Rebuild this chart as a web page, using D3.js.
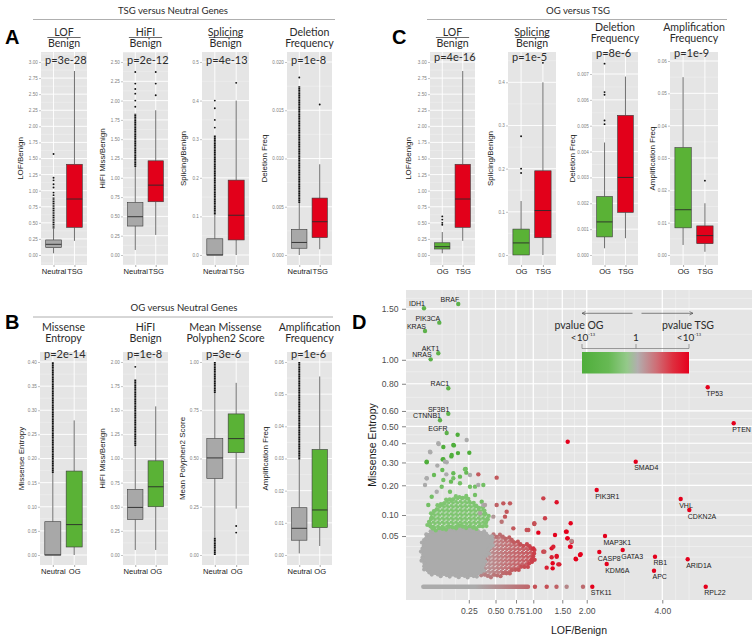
<!DOCTYPE html>
<html>
<head>
<meta charset="utf-8">
<script src="https://cdnjs.cloudflare.com/ajax/libs/d3/7.8.5/d3.min.js"></script>
<style>
  body { margin: 0; background: #fff; }
  svg { display: block; }
</style>
</head>
<body>
<svg id="fig" width="756" height="641"></svg>
<script>
// box stats are [lower whisker, q1, median, q3, upper whisker]
// runs are ranges of densely packed outliers, outs are single outliers

// A: TSG versus Neutral
const aLofNeutral = [0.026, 0.114, 0.166, 0.234, 0.41];
const aLofNeutralRun = [0.41, 0.90];
const aLofNeutralOut = [0.93, 0.97, 1.05, 1.10, 1.16, 1.20, 1.57];
const aLofTsg = [0.22, 0.43, 0.87, 1.41, 2.86];

const aHifiNeutral = [0.065, 0.375, 0.496, 0.68, 1.14];
const aHifiNeutralRun = [1.14, 1.83];
const aHifiNeutralOut = [1.92, 2.0, 2.09, 2.15, 2.22, 2.37];
const aHifiTsg = [0.26, 0.69, 0.905, 1.22, 1.875];
const aHifiTsgOut = [2.07, 2.22, 2.37];

const aSplNeutral = [0, 0, 0, 0.042, 0.105];
const aSplNeutralRun = [0.105, 0.31];
const aSplNeutralOut = [0.33, 0.35, 0.38, 0.40];
const aSplTsg = [0, 0.039, 0.103, 0.194, 0.40];
const aSplTsgOut = [0.446];

const aDelNeutral = [0, 0.0007, 0.0013, 0.00266, 0.0054];
const aDelNeutralRun = [0.0054, 0.0175];
const aDelNeutralOut = [0.0184];
const aDelTsg = [0.0006, 0.0018, 0.00345, 0.0059, 0.0094];
const aDelTsgOut = [0.0156];

// B: OG versus Neutral
const bEntNeutral = [0, 0, 0, 0.069, 0.17];
const bEntNeutralRun = [0.17, 0.40];
const bEntOg = [0, 0.0166, 0.063, 0.174, 0.279];

const bHifiNeutral = [0.052, 0.369, 0.493, 0.679, 1.13];
const bHifiNeutralRun = [1.13, 1.82];
const bHifiNeutralOut = [1.95];
const bHifiOg = [0.052, 0.50, 0.707, 0.976, 1.54];

const bPolyNeutral = [0.09, 0.397, 0.503, 0.603, 0.84];
const bPolyNeutralRun = [0.84, 1.0];
const bPolyNeutralRunLow = [0, 0.09];
const bPolyOg = [0.24, 0.53, 0.603, 0.731, 0.892];
const bPolyOgOut = [0.116, 0.15];

const bAmpNeutral = [0.0005, 0.0046, 0.0083, 0.0147, 0.0297];
const bAmpNeutralRun = [0.0297, 0.06];
const bAmpOg = [0.0028, 0.0085, 0.014, 0.0328, 0.0555];

// C: OG versus TSG
const cLofOg = [0.026, 0.093, 0.129, 0.19, 0.357];
const cLofOgOut = [0.47, 0.50, 0.55, 0.60];
const cLofTsg = [0.22, 0.43, 0.87, 1.41, 2.86];

const cSplOg = [0, 0, 0.028, 0.06, 0.125];
const cSplOgOut = [0.19, 0.20, 0.275];
const cSplTsg = [0, 0.04, 0.103, 0.195, 0.40];
const cSplTsgOut = [0.445];

const cDelOg = [0.00026, 0.0007, 0.00128, 0.00226, 0.00435];
const cDelOgOut = [0.00506, 0.0052, 0.0062, 0.0063, 0.0074];
const cDelTsg = [0.00065, 0.00165, 0.003, 0.0054, 0.0069];

const cAmpOg = [0.0031, 0.0084, 0.014, 0.0332, 0.055];
const cAmpTsg = [0.001, 0.0035, 0.006, 0.009, 0.016];
const cAmpTsgOut = [0.023];

// tick values
const ticksLof = [0, 0.25, 0.5, 0.75, 1, 1.25, 1.5, 1.75, 2, 2.25, 2.5, 2.75, 3];
const ticksHifiA = [0, 0.25, 0.5, 0.75, 1, 1.25, 1.5, 1.75, 2, 2.25, 2.5];
const ticksHifiB = [0, 0.25, 0.5, 0.75, 1, 1.25, 1.5, 1.75, 2];
const ticksSplA = [0, 0.1, 0.2, 0.3, 0.4, 0.5];
const ticksSplC = [0, 0.1, 0.2, 0.3, 0.4];
const ticksDelA = [0, 0.005, 0.01, 0.015, 0.02];
const ticksDelC = [0, 0.001, 0.002, 0.003, 0.004, 0.005, 0.006, 0.007];
const ticksEnt = [0, 0.05, 0.1, 0.15, 0.2, 0.25, 0.3, 0.35, 0.4];
const ticksPoly = [0, 0.25, 0.5, 0.75, 1];
const ticksAmp = [0, 0.01, 0.02, 0.03, 0.04, 0.05, 0.06];

// D: scatter of LOF/Benign vs Missense Entropy
const dXTicks = [0.25, 0.5, 0.75, 1, 1.5, 2, 4];
const dYTicks = [0.05, 0.1, 0.2, 0.3, 0.4, 0.5, 0.6, 0.8, 1, 1.5];

const ogGenes = ["IDH1", "BRAF", "PIK3CA", "KRAS", "AKT1", "NRAS", "RAC1", "SF3B1", "CTNNB1", "EGFR"];
const ogLof = [0.0233, 0.175, 0.0736, 0.0258, 0.0695, 0.0419, 0.1163, 0.1163, 0.0766, 0.108];
const ogEntropy = [1.505, 1.552, 1.354, 1.270, 1.058, 1.004, 0.765, 0.5815, 0.538, 0.459];

const tsgGenes = ["TP53", "PTEN", "SMAD4", "PIK3R1", "VHL", "CDKN2A", "MAP3K1", "CASP8", "GATA3", "KDM6A", "RB1", "APC", "ARID1A", "STK11", "RPL22"];
const tsgLof = [5.532, 6.520, 3.218, 2.2245, 4.591, 4.881, 2.4206, 2.285, 2.866, 2.462, 3.777, 3.747, 4.826, 2.124, 5.459];
const tsgEntropy = [0.7724, 0.5188, 0.3037, 0.1818, 0.1496, 0.1145, 0.0501, 0.0235, 0.0263, 0.0101, 0.0176, 0.00503, 0.01468, 0, 0];

// dense cores of the cloud, outlines: [lof, entropy]
const grayCore = [[0.0218, 0.0425], [0.0347, 0.0555], [0.063, 0.0626], [0.1255, 0.0663], [0.2094, 0.0686], [0.3147, 0.0626], [0.4077, 0.0555], [0.4763, 0.0425], [0.4413, 0.0263], [0.3914, 0.0139], [0.3754, 0.00548], [0.3147, 0.00226], [0.2094, 0.00199], [0.1255, 0.00226], [0.063, 0.0027], [0.0301, 0.00444], [0.0203, 0.0107], [0.0181, 0.0263]];
const greenCore = [[0.0347, 0.0702], [0.0397, 0.0955], [0.063, 0.1246], [0.1079, 0.1462], [0.1648, 0.1576], [0.2338, 0.1576], [0.2864, 0.1352], [0.3754, 0.1195], [0.4243, 0.0955], [0.4077, 0.0741], [0.3147, 0.0663], [0.2094, 0.0686], [0.1255, 0.0663], [0.063, 0.0626]];
const redCore = [[0.3914, 0.0475], [0.5127, 0.0521], [0.6714, 0.0456], [0.8044, 0.0367], [0.975, 0.0313], [1.0265, 0.0176], [0.9495, 0.0092], [0.7588, 0.00548], [0.5893, 0.0027], [0.4413, 0.00199], [0.3597, 0.0027], [0.3754, 0.0107], [0.4077, 0.0263]];

// scattered genes: [lof, entropy, score] score -1 = OG, 0 = neutral, 1 = TSG
const cloudPoints = [
  [0.171, 0.449, -1], [0.0916, 0.379, -1], [0.148, 0.388, -1], [0.234, 0.418, 0], [0.071, 0.396, 0],
  [0.0407, 0.351, 0], [0.173, 0.347, -1], [0.254, 0.349, -1], [0.133, 0.330, -1], [0.0885, 0.315, -1],
  [0.0301, 0.301, -1], [0.108, 0.301, 0], [0.0656, 0.285, 0], [0.053, 0.2426, -0.8], [0.0869, 0.2647, -0.8],
  [0.1445, 0.25, -0.8], [0.2263, 0.269, -0.8], [0.231, 0.2528, -0.8], [0.131, 0.2145, -0.8], [0.1864, 0.2354, -0.8],
  [0.2594, 0.2426, 0], [0.0301, 0.2283, 0], [0.1062, 0.2455, 0], [0.3753, 0.2011, -0.7], [0.3004, 0.1946, -0.7],
  [0.0301, 0.3037, -1], [0.0914, 0.3155, -1], [0.135, 0.337, -1], [0.1443, 0.390, -1], [0.0695, 0.3997, 0],
  [0.0397, 0.354, 0], [0.0301, 0.2285, 0], [0.0995, 0.3037, 0], [0.0914, 0.2214, -0.7], [0.1443, 0.2285, -0.7],
  [0.2214, 0.268, -0.7], [0.1864, 0.2079, -0.7], [0.2594, 0.1945, -0.7], [0.0841, 0.1945, -0.7], [0.1255, 0.1755, -0.7],
  [0.0451, 0.1575, -0.7], [0.3004, 0.1635, -0.7], [0.36, 0.1405, -0.7], [0.0346, 0.1299, -0.7], [0.0631, 0.1755, 0],
  [0.329, 0.2011, 0], [0.375, 0.1299, 0], [0.0258, 0.2011, 0],
  [0.3294, 0.2455, 0.45], [0.5127, 0.2311, 0.45], [1.6045, 0.4086, 1],
  [1.1616, 0.1519, 0.6], [1.395, 0.1385, 0.9], [1.1896, 0.091, 0.6], [1.016, 0.0765, 0.5], [1.0795, 0.0569, 1],
  [0.90, 0.0626, 0.5], [0.7144, 0.0663, 0.45], [0.5893, 0.1352, 0.45], [0.6298, 0.1095, 0.45], [0.5127, 0.1299, 0.4],
  [0.5697, 0.0823, 0.3], [0.3444, 0.1048, 0.05], [0.3914, 0.1299, 0.05], [0.4763, 0.0955, 0.1], [1.3647, 0.0521, 1],
  [1.305, 0.0287, 0.9], [1.395, 0.0176, 0.8], [1.323, 0.0107, 1], [1.218, 0.0071, 0.8], [1.323, 0.0066, 1],
  [1.4443, 0.0098, 0.8], [1.0, 0.0287, 0.7], [1.1616, 0.024, 0.7], [0.975, 0.0139, 0.6],
  [1.6633, 0.0782, 1], [1.5843, 0.059, 1], [1.6038, 0.0456, 0.9], [1.6834, 0.0395, 0.9], [1.6633, 0.0313, 0.9],
  [1.855, 0.0196, 1], [1.7716, 0.0146, 1], [1.3347, 0.0313, 0.8], [1.305, 0.0169, 0.8], [1.395, 0.0184, 0.9],
  [1.4257, 0.0098, 0.8], [1.1783, 0.024, 0.5], [1.016, 0.0782, 0.5], [0.9245, 0.0626, 0.5], [0.6714, 0.1352, 0.45],
  [0.6094, 0.0955, 0.45], [1.5713, 0.059, 1], [1.5967, 0.0456, 1], [1.6834, 0.0407, 0.2], [1.65, 0.0313, 1],
  [1.8693, 0.0205, 1], [1.7647, 0.0154, 1]
];

// genes with zero missense entropy
const zeroBand = [0.0217, 0.9195];
const zeroRowLof = [1.026, 1.2185, 1.392, 1.584, 1.919];
const zeroRowScore = [0.5, 0.5, 0.4, 0.2, 0.35];

// ------------------------------------------------------------------
const svg = d3.select("#fig");
const defs = svg.append("defs");
const AX = "'Liberation Sans', Arial, sans-serif";
const TI = "Lato, 'Open Sans', sans-serif";
const GREY = "#a8a8a8", RED = "#e2001a", GREEN = "#5ab236";

const scoreColor = d3.scaleLinear()
  .domain([-1, -0.6, 0, 0.45, 1])
  .range(["#4fae3b", "#7fc571", "#ababab", "#c2585c", "#e4001c"]);

function midMinors(ticks) {
  const step = ticks[1] - ticks[0];
  const ext = [ticks[0] - step, ...ticks, ticks[ticks.length - 1] + step];
  return ext.slice(1).map((v, i) => (v + ext[i]) / 2);
}

function boxPanel(c) {
  const g = svg.append("g");
  const x = d3.scaleLinear().domain([0.4, 2.6]).range([c.x0, c.x1]);
  const y = d3.scaleLinear().domain([0, c.tv]).range([c.zero, c.tp]);
  const clipId = "clip" + Math.round(c.x0) + "_" + Math.round(c.top);
  g.append("clipPath").attr("id", clipId).append("rect")
    .attr("x", c.x0).attr("y", c.top).attr("width", c.x1 - c.x0).attr("height", c.bottom - c.top);

  g.append("rect").attr("x", c.x0).attr("y", c.top)
    .attr("width", c.x1 - c.x0).attr("height", c.bottom - c.top).attr("fill", "#e5e5e5");

  const grid = g.append("g").attr("clip-path", `url(#${clipId})`);
  grid.selectAll(".mn").data(midMinors(c.ticks)).enter().append("line")
    .attr("x1", c.x0).attr("x2", c.x1).attr("y1", d => y(d)).attr("y2", d => y(d))
    .attr("stroke", "#f2f2f2").attr("stroke-width", 0.5);
  grid.selectAll(".mj").data(c.ticks).enter().append("line")
    .attr("x1", c.x0).attr("x2", c.x1).attr("y1", d => y(d)).attr("y2", d => y(d))
    .attr("stroke", "#fff").attr("stroke-width", 0.9);
  grid.selectAll(".vx").data([1, 2]).enter().append("line")
    .attr("x1", d => x(d)).attr("x2", d => x(d)).attr("y1", c.top).attr("y2", c.bottom)
    .attr("stroke", "#fff").attr("stroke-width", 0.9);

  const hw = x(1.375) - x(1);
  c.boxes.forEach((b, i) => {
    const cx = x(i + 1), s = b.stats;
    g.append("line").attr("x1", cx).attr("x2", cx).attr("y1", y(s[0])).attr("y2", y(s[1]))
      .attr("stroke", "#333").attr("stroke-width", 0.7);
    g.append("line").attr("x1", cx).attr("x2", cx).attr("y1", y(s[3])).attr("y2", y(s[4]))
      .attr("stroke", "#333").attr("stroke-width", 0.7);
    (b.runs || []).forEach(r => {
      g.append("line").attr("x1", cx).attr("x2", cx).attr("y1", y(r[0])).attr("y2", y(r[1]))
        .attr("stroke", "#111").attr("stroke-width", 1.9).attr("stroke-dasharray", "1.4 0.35");
    });
    g.selectAll(null).data(b.outs || []).enter().append("circle")
      .attr("cx", cx).attr("cy", d => y(d)).attr("r", 0.95).attr("fill", "#111");
    g.append("rect").attr("x", cx - hw).attr("y", y(s[3]))
      .attr("width", 2 * hw).attr("height", Math.max(0.5, y(s[1]) - y(s[3])))
      .attr("fill", b.color).attr("stroke", "#3a3a3a").attr("stroke-width", 0.6);
    g.append("line").attr("x1", cx - hw).attr("x2", cx + hw).attr("y1", y(s[2])).attr("y2", y(s[2]))
      .attr("stroke", "#2a2a2a").attr("stroke-width", 0.9);
  });

  // axes
  const ya = g.append("g").attr("transform", `translate(${c.x0},0)`)
    .call(d3.axisLeft(y).tickValues(c.ticks).tickFormat(d3.format(c.fmt)).tickSize(2).tickPadding(1.2));
  ya.select(".domain").remove();
  ya.selectAll("line").attr("stroke", "#888").attr("stroke-width", 0.5);
  ya.selectAll("text").attr("font-family", AX).attr("font-size", 4.6).attr("fill", "#808080");

  const xa = g.append("g").attr("transform", `translate(0,${c.bottom})`)
    .call(d3.axisBottom(x).tickValues([1, 2]).tickFormat(d => c.cats[d - 1]).tickSize(2).tickPadding(2));
  xa.select(".domain").remove();
  xa.selectAll("line").attr("stroke", "#555").attr("stroke-width", 0.5);
  xa.selectAll("text").attr("font-family", AX).attr("font-size", 7.6).attr("fill", "#1a1a1a");

  g.append("text")
    .attr("transform", `translate(${c.ytx},${(c.top + c.bottom) / 2}) rotate(-90)`)
    .attr("text-anchor", "middle").attr("dy", "0.35em")
    .attr("font-family", AX).attr("font-size", 8).attr("fill", "#1a1a1a").text(c.ytitle);

  // titles
  const mx = (c.x0 + c.x1) / 2;
  g.append("text").attr("x", mx).attr("y", c.t1).attr("text-anchor", "middle")
    .attr("font-family", TI).attr("font-size", 10.6).attr("fill", "#2b2b2b").text(c.title[0]);
  const t2 = g.append("text").attr("x", mx).attr("y", c.t1 + 11).attr("text-anchor", "middle")
    .attr("font-family", TI).attr("font-size", 10.6).attr("fill", "#2b2b2b").text(c.title[1]);
  if (c.frac) {
    const w = t2.node().getComputedTextLength() + 1;
    g.append("line").attr("x1", mx - w / 2).attr("x2", mx + w / 2)
      .attr("y1", c.t1 + 2).attr("y2", c.t1 + 2).attr("stroke", "#2b2b2b").attr("stroke-width", 0.7);
  }
  g.append("text").attr("x", c.x0 + 4).attr("y", c.py).attr("font-family", TI)
    .attr("font-size", 11).attr("fill", "#2b2b2b").text(c.p);
}

const rowA = { top: 52, bottom: 265, zero: 255, t1: 35.5, py: 64 };
const rowB = { top: 352, bottom: 565, zero: 555, t1: 330.8, py: 358 };

const panels = [
  { ...rowA, x0: 41, x1: 87, tv: 3, tp: 62, ticks: ticksLof, fmt: ".2f", title: ["LOF", "Benign"], frac: true, p: "p=3e-28", ytitle: "LOF/Benign", ytx: 20, cats: ["Neutral", "TSG"],
    boxes: [{ stats: aLofNeutral, runs: [aLofNeutralRun], outs: aLofNeutralOut, color: GREY }, { stats: aLofTsg, color: RED }] },
  { ...rowA, x0: 123, x1: 168, tv: 2.5, tp: 62, ticks: ticksHifiA, fmt: ".2f", title: ["HiFI", "Benign"], frac: true, p: "p=2e-12", ytitle: "HiFI Miss/Benign", ytx: 102, cats: ["Neutral", "TSG"],
    boxes: [{ stats: aHifiNeutral, runs: [aHifiNeutralRun], outs: aHifiNeutralOut, color: GREY }, { stats: aHifiTsg, outs: aHifiTsgOut, color: RED }] },
  { ...rowA, x0: 202, x1: 249, tv: 0.5, tp: 62, ticks: ticksSplA, fmt: ".1f", title: ["Splicing", "Benign"], frac: true, p: "p=4e-13", ytitle: "Splicing/Benign", ytx: 183, cats: ["Neutral", "TSG"],
    boxes: [{ stats: aSplNeutral, runs: [aSplNeutralRun], outs: aSplNeutralOut, color: GREY }, { stats: aSplTsg, outs: aSplTsgOut, color: RED }] },
  { ...rowA, x0: 287, x1: 332, tv: 0.02, tp: 62, ticks: ticksDelA, fmt: ".3f", title: ["Deletion", "Frequency"], frac: false, p: "p=1e-8", ytitle: "Deletion Freq", ytx: 264, cats: ["Neutral", "TSG"],
    boxes: [{ stats: aDelNeutral, runs: [aDelNeutralRun], outs: aDelNeutralOut, color: GREY }, { stats: aDelTsg, outs: aDelTsgOut, color: RED }] },

  { ...rowB, x0: 40, x1: 87, tv: 0.4, tp: 362, ticks: ticksEnt, fmt: ".2f", title: ["Missense", "Entropy"], frac: false, p: "p=2e-14", ytitle: "Missense Entropy", ytx: 21, cats: ["Neutral", "OG"],
    boxes: [{ stats: bEntNeutral, runs: [bEntNeutralRun], color: GREY }, { stats: bEntOg, color: GREEN }] },
  { ...rowB, x0: 123, x1: 168, tv: 2, tp: 362, ticks: ticksHifiB, fmt: ".2f", title: ["HiFI", "Benign"], frac: false, p: "p=1e-8", ytitle: "HiFI Miss/Benign", ytx: 102, cats: ["Neutral", "OG"],
    boxes: [{ stats: bHifiNeutral, runs: [bHifiNeutralRun], outs: bHifiNeutralOut, color: GREY }, { stats: bHifiOg, color: GREEN }] },
  { ...rowB, x0: 202, x1: 249, tv: 1, tp: 362, ticks: ticksPoly, fmt: ".2f", title: ["Mean Missense", "Polyphen2 Score"], frac: false, p: "p=3e-6", ytitle: "Mean Polyphen2 Score", ytx: 182, cats: ["Neutral", "OG"],
    boxes: [{ stats: bPolyNeutral, runs: [bPolyNeutralRun, bPolyNeutralRunLow], color: GREY }, { stats: bPolyOg, outs: bPolyOgOut, color: GREEN }] },
  { ...rowB, x0: 287, x1: 332, tv: 0.06, tp: 362, ticks: ticksAmp, fmt: ".2f", title: ["Amplification", "Frequency"], frac: false, p: "p=1e-6", ytitle: "Amplification Freq", ytx: 265, cats: ["Neutral", "OG"],
    boxes: [{ stats: bAmpNeutral, runs: [bAmpNeutralRun], color: GREY }, { stats: bAmpOg, color: GREEN }] },

  { ...rowA, x0: 430, x1: 475, tv: 3, tp: 62, ticks: ticksLof, fmt: ".2f", title: ["LOF", "Benign"], frac: true, p: "p=4e-16", py: 61, ytitle: "LOF/Benign", ytx: 408, cats: ["OG", "TSG"],
    boxes: [{ stats: cLofOg, outs: cLofOgOut, color: GREEN }, { stats: cLofTsg, color: RED }] },
  { ...rowA, x0: 508, x1: 556, tv: 0.4, tp: 82.3, ticks: ticksSplC, fmt: ".1f", title: ["Splicing", "Benign"], frac: true, p: "p=1e-5", py: 61, ytitle: "Splicing/Benign", ytx: 490, cats: ["OG", "TSG"],
    boxes: [{ stats: cSplOg, outs: cSplOgOut, color: GREEN }, { stats: cSplTsg, outs: cSplTsgOut, color: RED }] },
  { ...rowA, x0: 592, x1: 638, tv: 0.007, tp: 74, ticks: ticksDelC, fmt: ".3f", title: ["Deletion", "Frequency"], frac: false, t1: 31, p: "p=8e-6", py: 57, ytitle: "Deletion Freq", ytx: 572, cats: ["OG", "TSG"],
    boxes: [{ stats: cDelOg, outs: cDelOgOut, color: GREEN }, { stats: cDelTsg, color: RED }] },
  { ...rowA, x0: 670, x1: 718, tv: 0.06, tp: 61, ticks: ticksAmp, fmt: ".2f", title: ["Amplification", "Frequency"], frac: false, t1: 31, p: "p=1e-9", py: 57, ytitle: "Amplification Freq", ytx: 652, cats: ["OG", "TSG"],
    boxes: [{ stats: cAmpOg, color: GREEN }, { stats: cAmpTsg, outs: cAmpTsgOut, color: RED }] }
];
panels.forEach(boxPanel);

// section headers and panel letters
function header(text, cx, y, x1, x2, ly) {
  svg.append("text").attr("x", cx).attr("y", y).attr("text-anchor", "middle")
    .attr("font-family", TI).attr("font-size", 9.6).attr("fill", "#2b2b2b").text(text);
  svg.append("line").attr("x1", x1).attr("x2", x2).attr("y1", ly).attr("y2", ly)
    .attr("stroke", "#9a9a9a").attr("stroke-width", 0.8);
}
header("TSG versus Neutral Genes", 173, 13.5, 33, 335, 19.5);
header("OG versus Neutral Genes", 184, 310.5, 33, 333, 317);
header("OG versus TSG", 578, 13.5, 427, 727, 19.5);

[["A", 5, 44], ["C", 392, 44], ["B", 5, 329], ["D", 352, 329]].forEach(([t, x, y]) => {
  svg.append("text").attr("x", x).attr("y", y).attr("font-family", AX)
    .attr("font-weight", "bold").attr("font-size", 20).attr("fill", "#000").text(t);
});

// ------------------------------------------------------------------
// panel D
const D = { x0: 406, x1: 752, top: 290, bottom: 600 };
const dx = d3.scaleSqrt().domain([0, 4]).range([404.3, 662.3]);
const dy = d3.scaleSqrt().domain([0, 1]).range([586.8, 359.8]);

const gd = svg.append("g");
gd.append("clipPath").attr("id", "clipD").append("rect")
  .attr("x", D.x0).attr("y", D.top).attr("width", D.x1 - D.x0).attr("height", D.bottom - D.top);
gd.append("rect").attr("x", D.x0).attr("y", D.top).attr("width", D.x1 - D.x0)
  .attr("height", D.bottom - D.top).attr("fill", "#e5e5e5");

// minor breaks in sqrt space, as ggplot does
function sqrtMinors(ticks) {
  const b = ticks.map(Math.sqrt);
  const bd = b[1] - b[0];
  const ext = [b[0] - bd, ...b, b[b.length - 1] + bd];
  const out = [];
  for (let i = 0; i < ext.length - 1; i++) out.push(ext[i], (ext[i] + ext[i + 1]) / 2);
  out.push(ext[ext.length - 1]);
  return out.filter(v => v >= 0).map(v => v * v);
}
const gdGrid = gd.append("g").attr("clip-path", "url(#clipD)");
gdGrid.selectAll(".xm").data(sqrtMinors(dXTicks)).enter().append("line")
  .attr("x1", d => dx(d)).attr("x2", d => dx(d)).attr("y1", D.top).attr("y2", D.bottom)
  .attr("stroke", "#f4f4f4").attr("stroke-width", 0.6);
gdGrid.selectAll(".ym").data(sqrtMinors(dYTicks)).enter().append("line")
  .attr("y1", d => dy(d)).attr("y2", d => dy(d)).attr("x1", D.x0).attr("x2", D.x1)
  .attr("stroke", "#f4f4f4").attr("stroke-width", 0.6);
gdGrid.selectAll(".xM").data(dXTicks).enter().append("line")
  .attr("x1", d => dx(d)).attr("x2", d => dx(d)).attr("y1", D.top).attr("y2", D.bottom)
  .attr("stroke", "#fff").attr("stroke-width", 1.2);
gdGrid.selectAll(".yM").data(dYTicks).enter().append("line")
  .attr("y1", d => dy(d)).attr("y2", d => dy(d)).attr("x1", D.x0).attr("x2", D.x1)
  .attr("stroke", "#fff").attr("stroke-width", 1.2);

// legend (drawn behind the points, over the grid)
const lg = gd.append("g");
const lx0 = 582, lx1 = 689, lmid = 636;
const grad = defs.append("linearGradient").attr("id", "pgrad");
[[0, "#4fae3b"], [0.25, "#67b954"], [0.42, "#94c98a"], [0.52, "#b2aeae"], [0.7, "#cf6c74"], [0.85, "#de2e3e"], [1, "#e6001e"]]
  .forEach(([o, col]) => grad.append("stop").attr("offset", o).attr("stop-color", col));
lg.append("rect").attr("x", lx0).attr("y", 352).attr("width", lx1 - lx0).attr("height", 21.5).attr("fill", "url(#pgrad)");
lg.append("path").attr("d", `M${lx0},344 V348.5 H${lx1} V344 M${lmid},348.5 V344`)
  .attr("fill", "none").attr("stroke", "#777").attr("stroke-width", 0.7);
const arrow = (xa, xb) => {
  const dir = xb > xa ? -1 : 1;
  lg.append("path").attr("d", `M${xa},313.3 H${xb} M${xb + dir * 3.5},311.6 L${xb},313.3 L${xb + dir * 3.5},315`)
    .attr("fill", "none").attr("stroke", "#555").attr("stroke-width", 0.7);
};
arrow(632.5, 582);
arrow(641.5, 693);
lg.append("text").attr("x", 579).attr("y", 328.5).attr("text-anchor", "middle").attr("font-family", TI)
  .attr("font-size", 10.5).attr("fill", "#2b2b2b").text("pvalue OG");
lg.append("text").attr("x", 688).attr("y", 328.5).attr("text-anchor", "middle").attr("font-family", TI)
  .attr("font-size", 10.5).attr("fill", "#2b2b2b").text("pvalue TSG");
[[583, "<10"], [689, "<10"]].forEach(([cx, t]) => {
  const tx = lg.append("text").attr("x", cx).attr("y", 340.5).attr("text-anchor", "middle").attr("font-family", TI)
    .attr("font-size", 10).attr("fill", "#2b2b2b");
  tx.append("tspan").text(t);
  tx.append("tspan").attr("dy", -5).attr("font-size", 4.5).text("-13");
});
lg.append("text").attr("x", lmid).attr("y", 340.5).attr("text-anchor", "middle").attr("font-family", TI)
  .attr("font-size", 10).attr("fill", "#2b2b2b").text("1");

// dotted masks so the dense cores read as packed points rather than flat shapes
function dotMask(id, w, h, r) {
  const p = defs.append("pattern").attr("id", id + "P").attr("patternUnits", "userSpaceOnUse")
    .attr("width", w).attr("height", h);
  p.append("circle").attr("cx", w * 0.25).attr("cy", h * 0.25).attr("r", r).attr("fill", "#fff");
  p.append("circle").attr("cx", w * 0.75).attr("cy", h * 0.75).attr("r", r).attr("fill", "#fff");
  defs.append("mask").attr("id", id).attr("maskUnits", "userSpaceOnUse")
    .attr("x", D.x0).attr("y", D.top).attr("width", D.x1 - D.x0).attr("height", D.bottom - D.top)
    .append("rect").attr("x", D.x0).attr("y", D.top).attr("width", D.x1 - D.x0)
    .attr("height", D.bottom - D.top).attr("fill", `url(#${id}P)`);
}
dotMask("mGreen", 4.5, 4.1, 2.05);
dotMask("mRed", 4.2, 3.8, 2.0);

const pts = gd.append("g").attr("clip-path", "url(#clipD)");
const line = d3.line().x(d => dx(d[0])).y(d => dy(d[1])).curve(d3.curveCatmullRomClosed.alpha(0.5));

// circles along an outline, so the core edges look like loose points
function fuzzEdge(path, step, colorAt) {
  const node = path.node(), len = node.getTotalLength();
  const ring = [];
  for (let l = 0, k = 0; l < len; l += step, k++) {
    const p = node.getPointAtLength(l), q = node.getPointAtLength(Math.min(len, l + 0.5));
    const nx = -(q.y - p.y), ny = q.x - p.x, nn = Math.hypot(nx, ny) || 1;
    const off = (k % 3 === 0 ? 1.8 : k % 3 === 1 ? -0.6 : 0.7);
    ring.push([p.x + nx / nn * off, p.y + ny / nn * off]);
  }
  pts.selectAll(null).data(ring).enter().append("circle")
    .attr("cx", d => d[0]).attr("cy", d => d[1]).attr("r", 2.1).attr("fill", d => colorAt(d));
}

const redGrad = defs.append("linearGradient").attr("id", "redcore");
redGrad.append("stop").attr("offset", 0).attr("stop-color", "#b49e9f");
redGrad.append("stop").attr("offset", 0.45).attr("stop-color", "#c27478");
redGrad.append("stop").attr("offset", 1).attr("stop-color", "#c8525a");

// zero-entropy row
const zg = defs.append("linearGradient").attr("id", "zrow")
  .attr("gradientUnits", "userSpaceOnUse").attr("x1", dx(0.3)).attr("x2", dx(0.95));
zg.append("stop").attr("offset", 0).attr("stop-color", "#ababab");
zg.append("stop").attr("offset", 1).attr("stop-color", "#c0656a");
pts.append("line").attr("x1", dx(zeroBand[0])).attr("x2", dx(zeroBand[1]))
  .attr("y1", dy(0)).attr("y2", dy(0)).attr("stroke", "url(#zrow)")
  .attr("stroke-width", 4.4).attr("stroke-linecap", "round");
pts.selectAll(".z").data(zeroRowLof).enter().append("circle")
  .attr("cx", d => dx(d)).attr("cy", dy(0)).attr("r", 2.2)
  .attr("fill", (d, i) => scoreColor(zeroRowScore[i]));

const redPath = pts.append("path").attr("d", line(redCore)).attr("fill", "url(#redcore)").attr("mask", "url(#mRed)");
fuzzEdge(redPath, 3.2, d => scoreColor(Math.min(0.6, dx.invert(d[0]) * 0.6)));
const grayPath = pts.append("path").attr("d", line(grayCore)).attr("fill", "#ababab");
fuzzEdge(grayPath, 3.0, () => "#ababab");
const greenPath = pts.append("path").attr("d", line(greenCore)).attr("fill", "#7fc571").attr("mask", "url(#mGreen)");
fuzzEdge(greenPath, 3.4, () => "#7fc571");

pts.selectAll(".cp").data(cloudPoints).enter().append("circle")
  .attr("cx", d => dx(d[0])).attr("cy", d => dy(d[1])).attr("r", 2.2)
  .attr("fill", d => scoreColor(d[2]));

// labelled genes
pts.selectAll(".og").data(ogGenes).enter().append("circle")
  .attr("cx", (d, i) => dx(ogLof[i])).attr("cy", (d, i) => dy(ogEntropy[i])).attr("r", 2.2)
  .attr("fill", "#5db14a");
pts.selectAll(".tg").data(tsgGenes).enter().append("circle")
  .attr("cx", (d, i) => dx(tsgLof[i])).attr("cy", (d, i) => dy(tsgEntropy[i])).attr("r", 2.2)
  .attr("fill", "#e4001c");
gd.selectAll(".ogl").data(ogGenes).enter().append("text")
  .attr("x", (d, i) => dx(ogLof[i]) + 1).attr("y", (d, i) => dy(ogEntropy[i]) - 2)
  .attr("text-anchor", "end").attr("font-family", AX).attr("font-size", 7).attr("fill", "#1a1a1a").text(d => d);
gd.selectAll(".tgl").data(tsgGenes).enter().append("text")
  .attr("x", (d, i) => dx(tsgLof[i]) - 1.5).attr("y", (d, i) => dy(tsgEntropy[i]) + 8.6)
  .attr("font-family", AX).attr("font-size", 7).attr("fill", "#1a1a1a").text(d => d);

// D axes
const dxa = gd.append("g").attr("transform", `translate(0,${D.bottom})`)
  .call(d3.axisBottom(dx).tickValues(dXTicks).tickFormat(d3.format(".2f")).tickSize(3.5).tickPadding(4));
dxa.select(".domain").remove();
dxa.selectAll("line").attr("stroke", "#4d4d4d").attr("stroke-width", 0.7);
dxa.selectAll("text").attr("font-family", AX).attr("font-size", 8.6).attr("fill", "#4d4d4d");
const dya = gd.append("g").attr("transform", `translate(${D.x0},0)`)
  .call(d3.axisLeft(dy).tickValues(dYTicks).tickFormat(d3.format(".2f")).tickSize(4).tickPadding(3.5));
dya.select(".domain").remove();
dya.selectAll("line").attr("stroke", "#4d4d4d").attr("stroke-width", 0.7);
dya.selectAll("text").attr("font-family", AX).attr("font-size", 8.6).attr("fill", "#4d4d4d");

gd.append("text").attr("x", (D.x0 + D.x1) / 2).attr("y", 633.5).attr("text-anchor", "middle")
  .attr("font-family", AX).attr("font-size", 10.5).attr("fill", "#1a1a1a").text("LOF/Benign");
gd.append("text").attr("transform", `translate(372,445) rotate(-90)`).attr("text-anchor", "middle")
  .attr("dy", "0.35em").attr("font-family", AX).attr("font-size", 10.5).attr("fill", "#1a1a1a").text("Missense Entropy");
</script>
</body>
</html>
